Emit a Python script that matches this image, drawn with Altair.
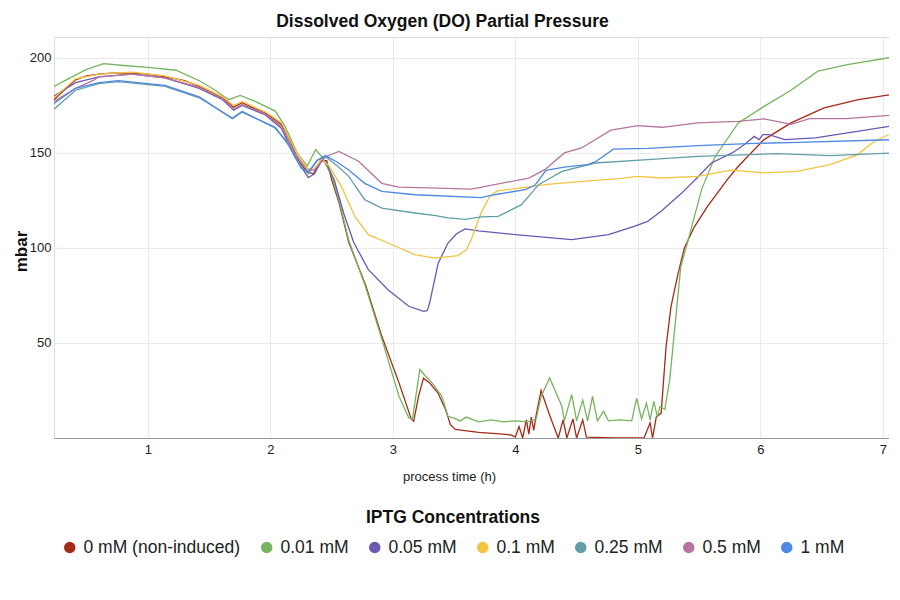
import altair as alt
import pandas as pd

# ---- data (process time in h, DO partial pressure in mbar) ----
series_names = ["0 mM (non-induced)", "0.01 mM", "0.05 mM", "0.1 mM", "0.25 mM", "0.5 mM", "1 mM"]
series_colors = ["#a52a17", "#77b45f", "#6a58b3", "#f2c440", "#629ea8", "#b5759e", "#4e88e2"]

t_0mM = [0.234, 0.30, 0.41, 0.50, 0.60, 0.70, 0.87, 1.0, 1.14, 1.3, 1.42, 1.52, 1.61, 1.70, 1.77, 1.85, 1.96, 2.09, 2.15, 2.23, 2.30, 2.35, 2.42, 2.46, 2.50, 2.56, 2.64, 2.78, 2.91, 3.05, 3.15, 3.17, 3.21, 3.25, 3.30, 3.37, 3.43, 3.47, 3.51, 3.70, 3.90, 3.97, 4.00, 4.03, 4.06, 4.09, 4.11, 4.13, 4.15, 4.17, 4.21, 4.28, 4.35, 4.39, 4.42, 4.47, 4.50, 4.55, 4.58, 4.80, 5.05, 5.10, 5.12, 5.15, 5.19, 5.23, 5.27, 5.33, 5.38, 5.46, 5.57, 5.73, 5.82, 6.03, 6.25, 6.52, 6.80, 7.09]
v_0mM = [178, 182, 188.5, 190.5, 191.5, 192, 192, 191.5, 190, 188, 185, 182, 179, 174, 176.5, 174, 171, 165, 158, 146, 140, 139, 146, 146, 136, 124, 103, 80, 53.5, 29, 10, 8.8, 22, 31.5, 29, 23.5, 15, 7, 4.5, 3, 2, 1.5, 0.5, 6, 0, 9.5, 2, 11, 4, 12, 25, 12, 0, 9.5, 0, 10, 0, 9.5, 0.5, 0, 0, 8, 0, 11, 13, 48, 69, 87, 100, 111, 122, 136, 143, 157, 165.8, 173.7, 178, 181]

t_001 = [0.234, 0.35, 0.50, 0.64, 0.80, 1.0, 1.23, 1.42, 1.55, 1.66, 1.755, 1.88, 2.04, 2.12, 2.22, 2.30, 2.37, 2.42, 2.50, 2.56, 2.64, 2.78, 2.91, 3.05, 3.13, 3.16, 3.22, 3.26, 3.32, 3.40, 3.45, 3.50, 3.55, 3.60, 3.70, 3.80, 3.90, 4.00, 4.10, 4.17, 4.21, 4.28, 4.38, 4.40, 4.46, 4.50, 4.55, 4.59, 4.63, 4.67, 4.72, 4.76, 4.85, 4.95, 4.99, 5.03, 5.07, 5.10, 5.13, 5.16, 5.18, 5.22, 5.26, 5.30, 5.35, 5.41, 5.52, 5.63, 5.82, 6.03, 6.25, 6.47, 6.71, 7.09]
v_001 = [185, 189, 194, 197, 196, 195, 193.5, 188, 183, 178, 180.3, 177, 172, 164, 150, 143, 151.7, 148, 138, 125, 104, 79, 52, 22, 10.7, 10, 36, 33, 29, 21.9, 11.4, 10.5, 9, 11, 8.5, 9.5, 8.5, 9, 8.5, 10, 21.9, 31.6, 16.6, 9, 22.8, 9, 20, 9, 21.9, 9, 14, 9, 9.5, 9, 21, 10, 18.4, 9.5, 19.3, 11, 16.6, 15, 30.7, 57, 90, 104, 130.7, 148, 165.8, 174.5, 183, 193, 196.5, 200.5]

t_005 = [0.234, 0.41, 0.60, 0.87, 1.14, 1.42, 1.61, 1.70, 1.77, 1.96, 2.09, 2.20, 2.31, 2.36, 2.42, 2.45, 2.52, 2.60, 2.68, 2.80, 2.96, 3.13, 3.25, 3.28, 3.30, 3.37, 3.45, 3.52, 3.59, 3.70, 4.00, 4.46, 4.76, 4.97, 5.08, 5.19, 5.36, 5.47, 5.60, 5.77, 5.87, 5.95, 5.99, 6.02, 6.07, 6.20, 6.45, 6.71, 7.09]
v_005 = [180, 187, 190, 191.5, 189.5, 184, 178, 172.5, 175, 170, 163, 148, 137, 139, 146, 145.6, 136, 118, 103, 88.6, 78, 69.3, 66.6, 67, 71, 92, 102.6, 107.5, 110, 109, 107, 104.4, 107, 111.4, 114, 119.3, 129, 136, 144.7, 150, 154.4, 158.7, 157, 159.6, 159.6, 157, 157.9, 160.5, 164.4]

t_01 = [0.234, 0.41, 0.60, 0.87, 1.14, 1.42, 1.61, 1.70, 1.77, 1.96, 2.09, 2.20, 2.30, 2.35, 2.42, 2.48, 2.58, 2.69, 2.80, 2.96, 3.18, 3.34, 3.53, 3.60, 3.64, 3.72, 3.79, 3.85, 4.05, 4.24, 4.45, 4.65, 4.85, 5.00, 5.20, 5.49, 5.76, 6.03, 6.30, 6.57, 6.79, 6.93, 7.09]
v_01 = [179, 189, 191.5, 192.5, 190.5, 185.5, 179.5, 175, 177, 171.5, 166, 152, 142, 141, 147, 143, 132.4, 116.6, 107, 102.6, 96.5, 94.7, 96, 99, 104.4, 118.4, 127, 130, 131.6, 133.3, 134.5, 135.6, 136.5, 137.7, 136.8, 137.7, 140.9, 139.5, 140.3, 143.8, 149, 156, 161]

t_025 = [0.234, 0.41, 0.60, 0.76, 1.14, 1.42, 1.69, 1.77, 2.04, 2.15, 2.25, 2.31, 2.38, 2.45, 2.55, 2.64, 2.77, 2.91, 3.18, 3.35, 3.45, 3.59, 3.72, 3.86, 4.05, 4.19, 4.38, 4.65, 5.08, 5.49, 6.14, 6.57, 7.09]
v_025 = [173, 183, 186.5, 187.5, 185, 179, 168.4, 171.9, 163, 155, 143, 139, 146, 148, 143, 137.7, 125.4, 121, 118.4, 117, 115.8, 115, 116.3, 116.6, 122.8, 133.3, 140.3, 144.7, 146.5, 148.2, 149.6, 148.6, 150]

t_05 = [0.234, 0.41, 0.55, 0.60, 0.87, 1.14, 1.42, 1.61, 1.70, 1.77, 1.96, 2.09, 2.20, 2.30, 2.36, 2.45, 2.56, 2.72, 2.91, 3.05, 3.29, 3.64, 3.83, 4.11, 4.24, 4.40, 4.54, 4.78, 5.00, 5.20, 5.49, 5.82, 6.03, 6.25, 6.40, 6.70, 7.09]
v_05 = [177, 184, 188, 190, 191.5, 189.5, 184.5, 178.5, 173, 175.5, 170.5, 164, 150, 141, 141, 148, 150.8, 145.6, 134, 132, 131.6, 131, 133.3, 136.8, 141.2, 150, 152.6, 162, 164.4, 163.5, 165.8, 166.6, 167.9, 165, 168, 168, 170]

t_1mM = [0.234, 0.41, 0.60, 0.76, 1.14, 1.42, 1.69, 1.77, 2.04, 2.15, 2.25, 2.31, 2.38, 2.45, 2.55, 2.64, 2.77, 2.91, 3.18, 3.72, 3.83, 4.08, 4.16, 4.25, 4.40, 4.59, 4.66, 4.80, 5.08, 5.49, 5.90, 6.31, 7.09]
v_1mM = [176, 184, 187, 188, 185.5, 179.5, 168, 171.5, 163.5, 154, 142, 140, 146, 148.6, 145, 141, 134, 129.8, 128, 126.5, 128, 130.7, 133, 140.8, 142.5, 143.8, 145.6, 152, 152.4, 153.8, 154.9, 155.6, 157]

x_ticks = [1, 2, 3, 4, 5, 6, 7]
y_ticks = [50, 100, 150, 200]

all_t = [t_0mM, t_001, t_005, t_01, t_025, t_05, t_1mM]
all_v = [v_0mM, v_001, v_005, v_01, v_025, v_05, v_1mM]

rows = []
for name, ts, vs in zip(series_names, all_t, all_v):
    for i, (t, v) in enumerate(zip(ts, vs)):
        rows.append({"series": name, "t": t, "v": v, "i": i})
df = pd.DataFrame(rows)

FONT = "Liberation Sans"

chart = alt.Chart(df).mark_line(strokeWidth=1.3, clip=True).encode(
    x=alt.X("t:Q",
            scale=alt.Scale(domain=[0.234, 7.05], nice=False, zero=False),
            axis=alt.Axis(values=x_ticks, title="process time (h)", format="d",
                          grid=True, gridColor="#ebebeb", ticks=False,
                          domain=True, domainColor="#9a9a9a",
                          labelFont=FONT, labelFontSize=13, labelColor="#222222",
                          labelPadding=5,
                          titleFont=FONT, titleFontSize=13, titleFontWeight="normal",
                          titleColor="#222222", titlePadding=14,
                          titleX=395, titleAlign="center")),
    y=alt.Y("v:Q",
            scale=alt.Scale(domain=[0, 211], nice=False),
            axis=alt.Axis(values=y_ticks, title="mbar", grid=True, gridColor="#ebebeb",
                          ticks=False, domain=False,
                          labelFont=FONT, labelFontSize=13, labelColor="#222222",
                          labelPadding=3,
                          titleFont=FONT, titleFontSize=17, titleFontWeight="bold",
                          titleColor="#111111", titleAngle=-90,
                          titleX=-33, titleY=214, titleAlign="center",
                          titleBaseline="middle")),
    color=alt.Color("series:N",
                    scale=alt.Scale(domain=series_names, range=series_colors),
                    legend=alt.Legend(title="IPTG Concentrations", orient="none",
                                      legendX=7, legendY=472, direction="horizontal",
                                      columns=7, symbolType="circle", symbolSize=30,
                                      symbolStrokeWidth=6, symbolOpacity=1,
                                      labelFont=FONT, labelFontSize=17.5,
                                      labelColor="#222222", labelOffset=5,
                                      columnPadding=11,
                                      titleFont=FONT, titleFontSize=17.5,
                                      titleFontWeight="bold", titleColor="#111111",
                                      titleAnchor="middle", titlePadding=12)),
    order="i:Q",
).properties(
    width=835,
    height=401,
    title=alt.TitleParams("Dissolved Oxygen (DO) Partial Pressure", font=FONT,
                          fontSize=17.5, fontWeight="bold", color="#111111",
                          anchor="middle", dx=-29, offset=7),
    padding={"left": 4, "top": 4, "right": 0, "bottom": 5},
).configure_view(stroke=None).configure(background="white")

chart.save("out.html", embed_options={"renderer": "svg", "actions": False})
